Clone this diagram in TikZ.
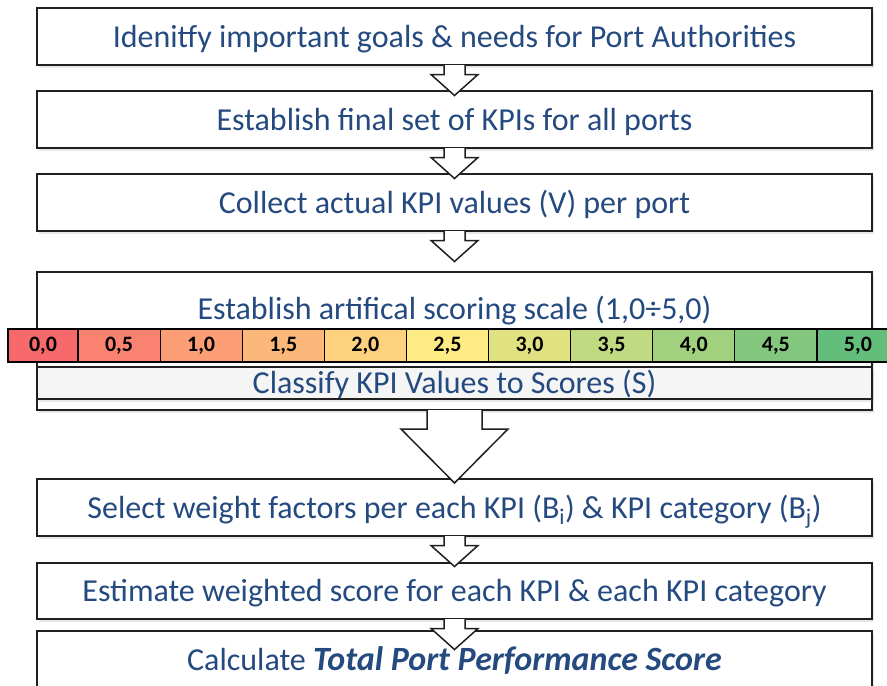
\documentclass[tikz,border=0pt]{standalone}
\usepackage{fontspec}
\setmainfont{Carlito}
\usetikzlibrary{calc,shadows}
\definecolor{steptext}{RGB}{36,74,128}
\definecolor{boxline}{RGB}{32,32,32}
\definecolor{lowred}{HTML}{F8696B}
\definecolor{midyellow}{HTML}{FFEB84}
\definecolor{highgreen}{HTML}{63BE7B}
% block arrow hanging under a box: #1 box, #2 half shaft, #3 half head, #4 head start, #5 tip
\newcommand\flowarrow[5]{%
\filldraw[arrowbody] ($(#1.south)+(-#2,-1)$) -- ($(#1.south)+(-#2,#4)$) -- ($(#1.south)+(-#3,#4)$) -- ($(#1.south)+(0,#5)$) -- ($(#1.south)+(#3,#4)$) -- ($(#1.south)+(#2,#4)$) -- ($(#1.south)+(#2,-1)$);}
\begin{document}
\begin{tikzpicture}[x = 1pt, y = -1pt,
  stepbox/.style = {draw = boxline, fill = white, line width = 2pt, minimum width = 835pt, minimum height = 57pt, inner sep = 0pt, text = steptext, text height = 24pt, text depth = 3pt, font = \fontsize{32}{38}\selectfont, drop shadow = {opacity = 0.18, shadow xshift = 1.5pt, shadow yshift = -2.5pt}},
  steplabel/.style = {inner sep = 0pt, text = steptext, text height = 24pt, text depth = 3pt, font = \fontsize{32}{38}\selectfont},
  scalecell/.style = {draw = black, line width = 1.2pt, minimum height = 33pt, inner sep = 0pt, font = \fontsize{22}{26}\selectfont\bfseries},
  arrowbody/.style = {draw = boxline, fill = white, line width = 1.5pt, line join = miter}]
\useasboundingbox (0,0) rectangle (887,686);
\clip (0,0) rectangle (887,686);
\pgfmathsetmacro\cellw{82.1};
\node[stepbox] (b1) at (454.5,36.5) {Idenitfy important goals \& needs for Port Authorities};
\node[stepbox] (b2) at (454.5,119.5) {Establish final set of KPIs for all ports};
\node[stepbox] (b3) at (454.5,202.5) {Collect actual KPI values (V) per port};
\node[stepbox, minimum height = 138pt] (b4) at (454.5,341) {};
\node[steplabel] (b4title) at (454.5,309) {Establish artifical scoring scale (1,0÷5,0)};
\node[stepbox, fill = black!4, minimum height = 32pt, drop shadow = {opacity = 0}] (classify) at (454.5,383) {Classify KPI Values to Scores (S)};
\foreach \a/\b [count = \i from 0] in {0/0,0/5,1/0,1/5,2/0,2/5,3/0,3/5,4/0,4/5,5/0} {
  \pgfmathsetmacro\xl{\i == 0 ? 8 : 78 + \cellw*(\i-1)}
  \pgfmathsetmacro\xr{78 + \cellw*\i}
  \pgfmathsetmacro\xc{(\xl+\xr)/2}
  \pgfmathsetmacro\cellwd{\xr-\xl}
  \pgfmathtruncatemacro\mix{\i < 6 ? 20*\i : 20*(\i-5)}
  \ifnum\i<6 \colorlet{cellfill}{midyellow!\mix!lowred}\else\colorlet{cellfill}{highgreen!\mix!midyellow}\fi
  \node[scalecell, fill = cellfill, minimum width = \cellwd pt] (c\i) at (\xc,345.5) {\a,\b};
}
\node[stepbox] (b5) at (454.5,507.5) {Select weight factors per each KPI (B\textsubscript{i}) \& KPI category (B\textsubscript{j})};
\node[stepbox, minimum height = 56pt] (b6) at (454.5,591) {Estimate weighted score for each KPI \& each KPI category};
\node[stepbox, minimum height = 58pt] (b7) at (454.5,660) {Calculate {\fontsize{34}{38}\selectfont\bfseries\itshape Total Port Performance Score}};
% arrows between the steps
\foreach \s in {b1,b2,b3,b5,b6} \flowarrow{\s}{10.5}{23.5}{8.5}{29.5};
\flowarrow{b4}{27.5}{53.5}{18}{72};
\end{tikzpicture}
\end{document}
